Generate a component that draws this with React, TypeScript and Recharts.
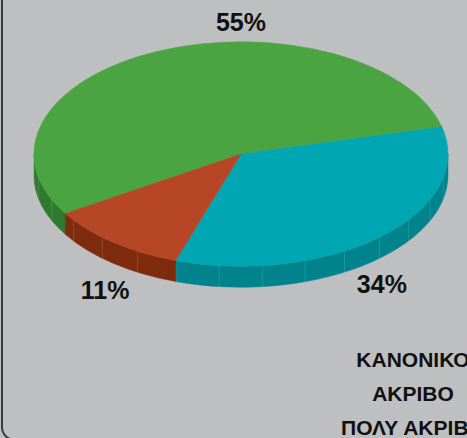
import React from "react";
import { PieChart, Pie, Legend } from "recharts";

const categories = ["ΚΑΝΟΝΙΚΟ", "ΑΚΡΙΒΟ", "ΠΟΛΥ ΑΚΡΙΒΟ"];
const shares = [55, 34, 11];

const topColors = ["#4ba442", "#00a6b1", "#b74626"];
const sideColors = ["#2f7b2d", "#00838c", "#7f2b0e"];

const RAD = Math.PI / 180;
const TILT = 0.542;
const DEPTH = 21;

const data = categories.map((name, i) => ({
  name,
  value: shares[i],
  fill: topColors[i],
  side: sideColors[i],
}));

function Slice3D(props: any) {
  const { cx, cy, outerRadius, startAngle, endAngle, fill, payload } = props;
  const rx = outerRadius;
  const ry = outerRadius * TILT;
  const xy = (a: number, dy = 0) => [cx + rx * Math.cos(a * RAD), cy - ry * Math.sin(a * RAD) + dy];
  const pt = (a: number, dy = 0) => xy(a, dy).join(",");

  const hi = Math.max(startAngle, endAngle);
  const lo = Math.min(startAngle, endAngle);
  const large = hi - lo > 180 ? 1 : 0;
  const top = `M${cx},${cy} L${pt(hi)} A${rx},${ry} 0 ${large} 1 ${pt(lo)} Z`;

  // side wall: only the front (lower) half of the rim is visible
  const walls: string[] = [];
  const seams: number[][] = [];
  for (let k = -2; k <= 1; k++) {
    const a0 = Math.max(lo, -180 + 360 * k);
    const a1 = Math.min(hi, 360 * k);
    if (a1 - a0 > 0.01) {
      walls.push(
        `M${pt(a1)} A${rx},${ry} 0 0 1 ${pt(a0)} L${pt(a0, DEPTH)} A${rx},${ry} 0 0 0 ${pt(a1, DEPTH)} Z`
      );
      for (let a = Math.ceil(a0 / 12) * 12; a < a1; a += 12) {
        seams.push([...xy(a), ...xy(a, DEPTH)]);
      }
    }
  }
  const side = payload?.side ?? props.side;

  return (
    <g>
      {walls.map((d, i) => (
        <path key={i} d={d} fill={side} stroke={side} strokeWidth={0.5} />
      ))}
      {seams.map((s, i) => (
        <line key={"s" + i} x1={s[0]} y1={s[1]} x2={s[2]} y2={s[3]} stroke="#ffffff" strokeOpacity={0.12} strokeWidth={1} />
      ))}
      <path d={top} fill={fill} stroke={fill} strokeWidth={0.5} />
    </g>
  );
}

function renderLabel(props: any) {
  const { cx, cy, midAngle, outerRadius, percent } = props;
  const half = percent * 180;
  const d = ((((midAngle - 90) % 360) + 540) % 360) - 180;
  const angle = Math.abs(d) < half ? 90 : midAngle;
  const rx = outerRadius * 1.03;
  const ry = outerRadius * TILT;
  const s = Math.sin(angle * RAD);
  const front = s <= 0;
  const x = cx + (front ? -4 : 0) + rx * Math.cos(angle * RAD);
  const y = front ? cy - ry * s + DEPTH + 27 : cy - ry * s - 20;
  return (
    <text
      x={x}
      y={y}
      textAnchor="middle"
      dominantBaseline="central"
      fill="#111"
      fontSize={25}
      fontWeight="bold"
      fontFamily="'Liberation Sans', Arial, sans-serif"
    >
      {`${Math.round(percent * 100)}%`}
    </text>
  );
}

function LegendText() {
  return (
    <div style={{ width: 226, textAlign: "center" }}>
      {categories.map((name) => (
        <div
          key={name}
          style={{
            fontSize: 21,
            fontWeight: "bold",
            lineHeight: "34px",
            color: "#111",
            whiteSpace: "nowrap",
          }}
        >
          {name}
        </div>
      ))}
    </div>
  );
}

export default function App() {
  return (
    <div
      style={{
        position: "absolute",
        left: 0,
        top: 0,
        width: 467,
        height: 438,
        overflow: "hidden",
        background: "#bebfc1",
        fontFamily: "'Liberation Sans', Arial, sans-serif",
      }}
    >
      <div
        style={{
          position: "absolute",
          left: 1,
          top: -20,
          width: 600,
          height: 461,
          boxSizing: "border-box",
          border: "2px solid #3a3a3a",
          borderRadius: 14,
        }}
      />
      <div style={{ position: "absolute", left: 0, top: 0 }}>
        <PieChart width={467} height={438} margin={{ top: 0, right: 0, bottom: 0, left: 0 }}>
          <Pie
            data={data}
            dataKey="value"
            nameKey="name"
            cx={241}
            cy={154}
            outerRadius={207}
            startAngle={-148}
            endAngle={-508}
            stroke="none"
            shape={Slice3D}
            label={renderLabel}
            labelLine={false}
            isAnimationActive={false}
          />
          <Legend
            content={LegendText}
            wrapperStyle={{ position: "absolute", left: 300, top: 343, width: 226 }}
          />
        </PieChart>
      </div>
    </div>
  );
}
